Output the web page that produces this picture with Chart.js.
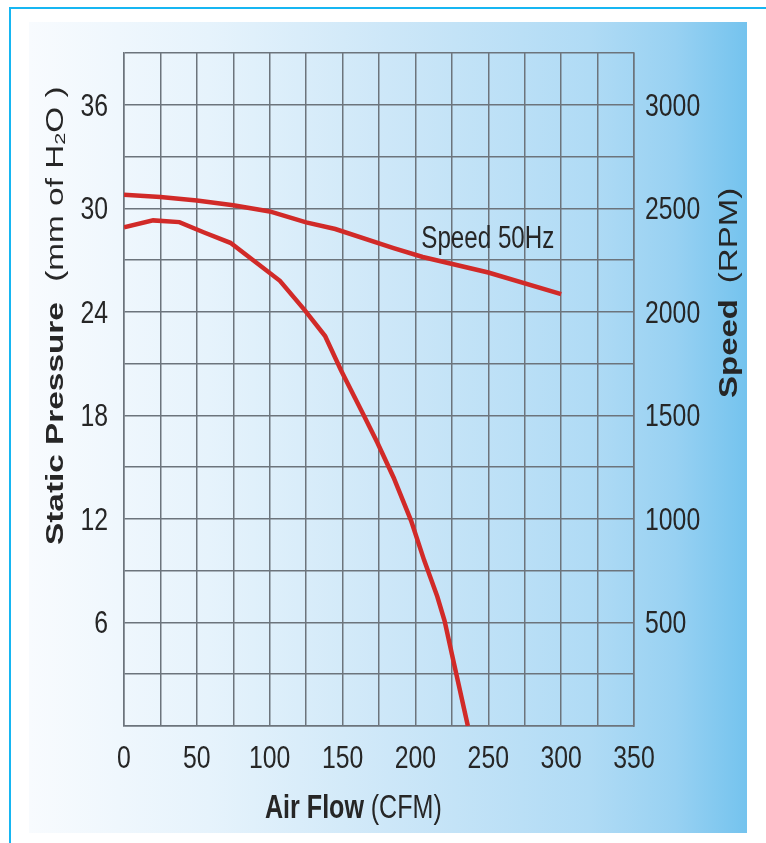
<!DOCTYPE html>
<html>
<head>
<meta charset="utf-8">
<script src="https://cdn.jsdelivr.net/npm/chart.js@4.4.1/dist/chart.umd.min.js"></script>
<style>
  html, body { margin: 0; padding: 0; background: #fff; }
  #wrap { position: relative; width: 766px; height: 843px; }
</style>
</head>
<body>
<div id="wrap"><canvas id="fanChart" width="766" height="843"></canvas></div>
<script>
// air flow (CFM) vs static pressure (mm H2O)
const pressureFlow = [0, 20, 38, 55, 73, 90, 107, 124, 138, 149, 164, 174, 185, 197, 206, 215, 220, 226, 236];
const pressureVals = [28.9, 29.3, 29.2, 28.6, 28.0, 26.9, 25.8, 24.1, 22.6, 20.6, 18.1, 16.4, 14.4, 11.9, 9.6, 7.5, 6.1, 3.8, 0];

// air flow (CFM) vs fan speed (RPM)
const speedFlow = [0, 25, 50, 75, 100, 125, 145, 185, 205, 250, 300];
const speedVals = [2565, 2555, 2538, 2515, 2485, 2432, 2400, 2308, 2265, 2190, 2086];

const flowTicks = [0, 50, 100, 150, 200, 250, 300, 350];
const pressureTicks = [6, 12, 18, 24, 30, 36];
const speedTicks = [500, 1000, 1500, 2000, 2500, 3000];

const family = '"Liberation Sans", Arial, sans-serif';
const textColor = '#262626';
const gridColor = '#6c747c';
const curveColor = '#d12a28';

// the reference uses a condensed face; squeeze Liberation Sans horizontally
function drawSegments(ctx, segs, x, y, angle, sx, align) {
  ctx.save();
  ctx.translate(x, y);
  ctx.rotate(angle);
  ctx.scale(sx, 1);
  ctx.fillStyle = textColor;
  ctx.textBaseline = 'alphabetic';
  ctx.textAlign = 'left';
  let total = 0;
  segs.forEach(s => {
    ctx.font = s.font;
    total += (s.gap || 0) + ctx.measureText(s.text).width;
  });
  let pos = align === 'right' ? -total : align === 'center' ? -total / 2 : 0;
  segs.forEach(s => {
    pos += s.gap || 0;
    ctx.font = s.font;
    ctx.fillText(s.text, pos, s.dy || 0);
    pos += ctx.measureText(s.text).width;
  });
  ctx.restore();
}

const tickFont = '31px ' + family;
const squeeze = 0.8;

const backdrop = {
  id: 'backdrop',
  beforeDraw(chart) {
    const ctx = chart.ctx;
    ctx.save();
    ctx.fillStyle = '#ffffff';
    ctx.fillRect(0, 0, chart.width, chart.height);
    const g = ctx.createLinearGradient(29, 0, 747, 0);
    g.addColorStop(0, '#f8fbfe');
    g.addColorStop(0.25, '#e6f3fc');
    g.addColorStop(0.5, '#cde7f8');
    g.addColorStop(0.78, '#b0dbf5');
    g.addColorStop(0.9, '#98d1f2');
    g.addColorStop(1, '#74c3ee');
    ctx.fillStyle = g;
    ctx.fillRect(29, 22, 718, 811);
    ctx.strokeStyle = '#16b6f2';
    ctx.lineWidth = 2;
    ctx.beginPath();
    ctx.moveTo(766, 8);
    ctx.lineTo(10, 8);
    ctx.lineTo(10, 843);
    ctx.stroke();
    ctx.restore();
  },
  afterDraw(chart) {
    const ctx = chart.ctx;
    const xs = chart.scales.x, ys = chart.scales.y, y2 = chart.scales.y2;
    const area = chart.chartArea;

    // tick labels
    xs.ticks.forEach(t => {
      if (!flowTicks.includes(t.value)) return;
      drawSegments(ctx, [{ text: String(t.value), font: tickFont }],
        xs.getPixelForValue(t.value), area.bottom + 42, 0, squeeze, 'center');
    });
    ys.ticks.forEach(t => {
      if (!pressureTicks.includes(t.value)) return;
      drawSegments(ctx, [{ text: String(t.value), font: tickFont }],
        area.left - 16, ys.getPixelForValue(t.value) + 11, 0, squeeze, 'right');
    });
    y2.ticks.forEach(t => {
      if (!speedTicks.includes(t.value)) return;
      drawSegments(ctx, [{ text: String(t.value), font: tickFont }],
        area.right + 11, y2.getPixelForValue(t.value) + 11, 0, squeeze, 'left');
    });

    // axis titles
    drawSegments(ctx, [
      { text: 'Static Pressure', font: 'bold 23px ' + family },
      { text: '(mm of H', font: '23px ' + family, gap: 14 },
      { text: '2', font: '15px ' + family, dy: 2 },
      { text: 'O )', font: '23px ' + family }
    ], 63, 545, -Math.PI / 2, 1.45);
    drawSegments(ctx, [
      { text: 'Speed', font: 'bold 25px ' + family },
      { text: '(RPM)', font: '25px ' + family, gap: 12 }
    ], 737, 398, -Math.PI / 2, 1.32);
    drawSegments(ctx, [
      { text: 'Air Flow', font: 'bold 33px ' + family },
      { text: '(CFM)', font: '33px ' + family, gap: 9 }
    ], 265, 818, 0, 0.76);

    // curve label
    drawSegments(ctx, [{ text: 'Speed 50Hz', font: '31px ' + family }],
      xs.getPixelForValue(204), ys.getPixelForValue(27.7), 0, 0.78);
  }
};

new Chart(document.getElementById('fanChart'), {
  type: 'line',
  data: {
    datasets: [{
      label: 'Static Pressure',
      data: pressureFlow.map((f, i) => ({ x: f, y: pressureVals[i] })),
      borderColor: curveColor,
      borderWidth: 4.5,
      pointRadius: 0,
      tension: 0,
      yAxisID: 'y'
    }, {
      label: 'Speed 50Hz',
      data: speedFlow.map((f, i) => ({ x: f, y: speedVals[i] })),
      borderColor: curveColor,
      borderWidth: 4.5,
      pointRadius: 0,
      tension: 0,
      yAxisID: 'y2'
    }]
  },
  options: {
    responsive: false,
    animation: false,
    layout: { padding: { top: 53, left: 0, right: 0, bottom: 0 } },
    plugins: { legend: { display: false }, tooltip: { enabled: false } },
    scales: {
      x: {
        type: 'linear', min: 0, max: 350,
        afterFit: s => { s.height = 117; },
        grid: { color: gridColor, lineWidth: 1.5, drawTicks: false },
        border: { color: gridColor, width: 1.5 },
        ticks: { stepSize: 25, autoSkip: false, display: false }
      },
      y: {
        position: 'left', min: 0, max: 39,
        afterFit: s => { s.width = 124; },
        grid: { color: gridColor, lineWidth: 1.5, drawTicks: false },
        border: { color: gridColor, width: 1.5 },
        ticks: { stepSize: 3, autoSkip: false, display: false }
      },
      y2: {
        position: 'right', min: 0, max: 3250,
        afterFit: s => { s.width = 132; },
        grid: { display: false, drawTicks: false },
        border: { color: gridColor, width: 1.5 },
        ticks: { stepSize: 250, autoSkip: false, display: false }
      }
    }
  },
  plugins: [backdrop]
});
</script>
</body>
</html>
